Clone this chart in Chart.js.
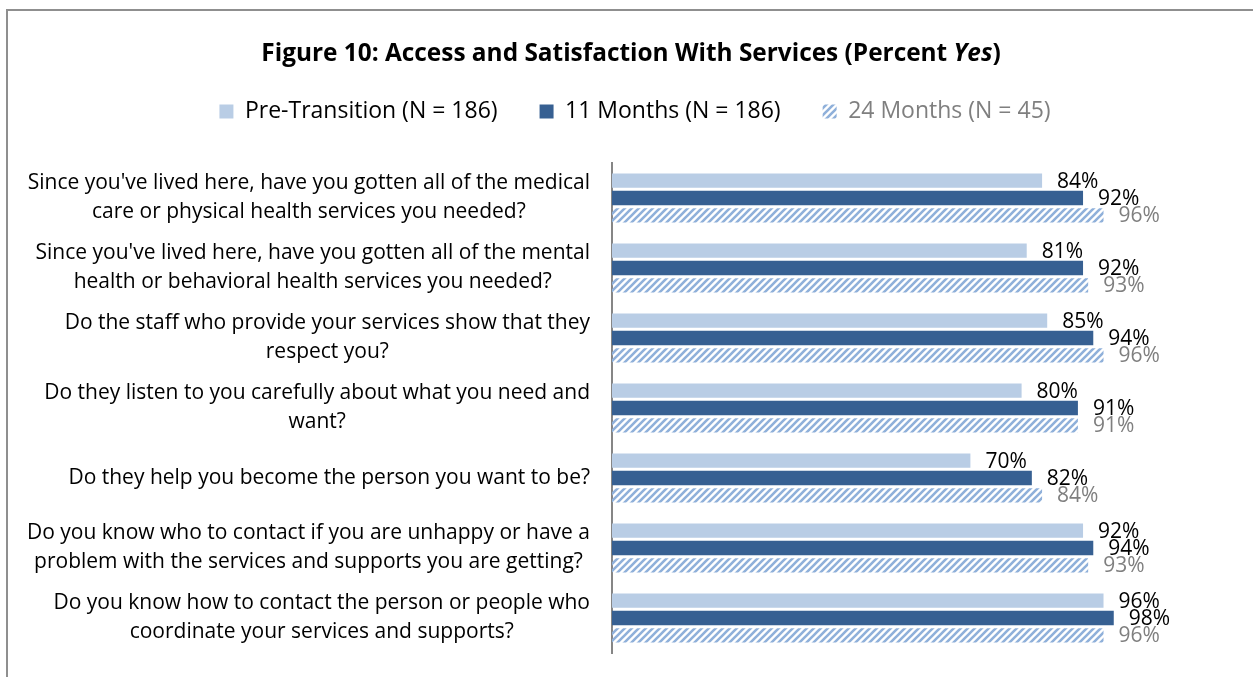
<!DOCTYPE html>
<html>
<head>
<meta charset="utf-8">
<script src="https://cdn.jsdelivr.net/npm/chart.js@4.4.1/dist/chart.umd.min.js"></script>
<style>
  html, body { margin: 0; padding: 0; background: #fff; overflow: hidden; width: 1253px; height: 677px; }
  #frame { position: absolute; left: 6px; top: 9px; width: 1300px; height: 720px; border: 2px solid #8f8f8f; box-sizing: border-box; }
  #wrap { position: absolute; left: 0; top: 0; width: 1253px; height: 677px; }
</style>
</head>
<body>
<div id="frame"></div>
<div id="wrap"><canvas id="chart"></canvas></div>
<script>
const titleMain = 'Figure 10: Access and Satisfaction With Services (Percent ';
const titleItalic = 'Yes';
const titleEnd = ')';

const questions = [
  ["Since you've lived here, have you gotten all of the medical", 'care or physical health services you needed?'],
  ["Since you've lived here, have you gotten all of the mental", 'health or behavioral health services you needed?'],
  ['Do the staff who provide your services show that they', 'respect you?'],
  ['Do they listen to you carefully about what you need and', 'want?'],
  ['Do they help you become the person you want to be?'],
  ['Do you know who to contact if you are unhappy or have a', 'problem with the services and supports you are getting?'],
  ['Do you know how to contact the person or people who', 'coordinate your services and supports?']
];

const seriesNames = ['Pre-Transition (N = 186)', '11 Months (N = 186)', '24 Months (N = 45)'];
const preTransition = [84, 81, 85, 80, 70, 92, 96];
const months11 = [92, 92, 94, 91, 82, 94, 98];
const months24 = [96, 93, 96, 91, 84, 93, 96];

const FONT = '"Open Sans", "Liberation Sans", sans-serif';
const labelColors = ['#000000', '#000000', '#7f7f7f'];

// diagonal stripes for the 24 month bars
function makeHatch(color) {
  const c = document.createElement('canvas');
  c.width = 7;
  c.height = 7;
  const g = c.getContext('2d');
  g.strokeStyle = color;
  g.lineWidth = 2.6;
  g.beginPath();
  g.moveTo(0, 7); g.lineTo(7, 0);
  g.moveTo(-1, 1); g.lineTo(1, -1);
  g.moveTo(6, 8); g.lineTo(8, 6);
  g.stroke();
  return g.createPattern(c, 'repeat');
}

// title with the italic "Yes"
const titlePlugin = {
  id: 'titlePlugin',
  afterDraw(chart) {
    const ctx = chart.ctx;
    const parts = [
      [titleMain, 'bold 24.4px ' + FONT],
      [titleItalic, 'italic bold 24.4px ' + FONT],
      [titleEnd, 'bold 24.4px ' + FONT]
    ];
    ctx.save();
    ctx.fillStyle = '#000';
    ctx.textBaseline = 'alphabetic';
    ctx.textAlign = 'left';
    let total = 0;
    parts.forEach(p => { ctx.font = p[1]; total += ctx.measureText(p[0]).width; });
    let x = 631 - total / 2;
    parts.forEach(p => {
      ctx.font = p[1];
      ctx.fillText(p[0], x, 61);
      x += ctx.measureText(p[0]).width;
    });
    ctx.restore();
  }
};

// question text: each block right aligned, lines centred inside the block
const questionLabels = {
  id: 'questionLabels',
  afterDraw(chart) {
    const ctx = chart.ctx;
    const yScale = chart.scales.y;
    const right = chart.chartArea.left - 22;
    ctx.save();
    ctx.font = '21px ' + FONT;
    ctx.fillStyle = '#000';
    ctx.textAlign = 'center';
    ctx.textBaseline = 'middle';
    questions.forEach((lines, i) => {
      const y = yScale.getPixelForTick(i);
      const widest = Math.max(...lines.map(l => ctx.measureText(l).width));
      const cx = right - widest / 2;
      lines.forEach((line, j) => {
        ctx.fillText(line, cx, y + (j - (lines.length - 1) / 2) * 29);
      });
    });
    ctx.restore();
  }
};

// percent labels at the end of each bar
const valueLabels = {
  id: 'valueLabels',
  afterDatasetsDraw(chart) {
    const ctx = chart.ctx;
    ctx.save();
    ctx.font = '21px ' + FONT;
    ctx.textAlign = 'left';
    ctx.textBaseline = 'middle';
    chart.data.datasets.forEach((ds, d) => {
      ctx.fillStyle = labelColors[d];
      chart.getDatasetMeta(d).data.forEach((bar, i) => {
        ctx.fillText(ds.data[i] + '%', bar.x + 15, bar.y + 1);
      });
    });
    ctx.restore();
  }
};

const ctx = document.getElementById('chart');
new Chart(ctx, {
  type: 'bar',
  data: {
    labels: questions,
    datasets: [
      { label: seriesNames[0], data: preTransition, backgroundColor: '#b9cde5', borderWidth: 0 },
      { label: seriesNames[1], data: months11, backgroundColor: '#376092', borderWidth: 0 },
      { label: seriesNames[2], data: months24, backgroundColor: makeHatch('#8fb0da'), borderWidth: 0 }
    ]
  },
  options: {
    indexAxis: 'y',
    responsive: true,
    maintainAspectRatio: false,
    animation: false,
    categoryPercentage: 0.743,
    barPercentage: 0.83,
    layout: { padding: { top: 58, left: 18, right: 1, bottom: 24 } },
    scales: {
      x: {
        position: 'top',
        min: 0,
        max: 125,
        ticks: { display: false },
        grid: { display: false, drawTicks: true, tickLength: 30 },
        border: { display: false }
      },
      y: {
        ticks: { display: false },
        grid: { display: false },
        border: { display: true, color: '#868686', width: 2 },
        afterFit: (scale) => { scale.width = 594; }
      }
    },
    plugins: {
      tooltip: { enabled: false },
      legend: {
        position: 'top',
        labels: {
          boxWidth: 14,
          boxHeight: 14,
          padding: 42,
          font: { family: FONT, size: 23 },
          color: '#000',
          generateLabels: (chart) => {
            const items = Chart.defaults.plugins.legend.labels.generateLabels(chart);
            items.forEach((item, i) => { item.fontColor = labelColors[i]; });
            return items;
          }
        }
      }
    }
  },
  plugins: [titlePlugin, questionLabels, valueLabels]
});
</script>
</body>
</html>
